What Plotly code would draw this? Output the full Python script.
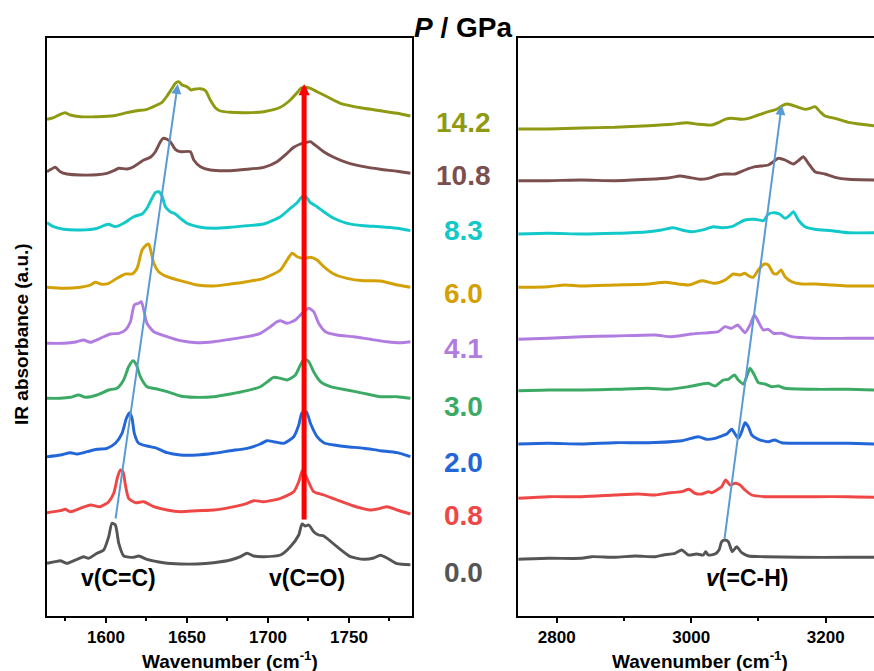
import plotly.graph_objects as go

# Pressure steps (GPa) and the colour used for each spectrum / label
pressures = ["0.0", "0.8", "2.0", "3.0", "4.1", "6.0", "8.3", "10.8", "14.2"]
colors = ["#555555", "#EF4646", "#2266D8", "#3CAA64", "#B07CE0",
          "#D3A005", "#12C8C8", "#7C4F4F", "#8E9A12"]
label_level = [44, 101, 154, 210, 268, 323, 386, 441, 494]

# ---------- C=C / C=O region (stacked absorbance, a.u.) ----------
wn_cc_00 = [1563.6, 1568.7, 1571.8, 1575.9, 1582.1, 1586.2, 1589.3, 1594.5, 1598.6, 1601.7, 1603.7, 1605.8,
            1607.9, 1611.0, 1617.1, 1620.2, 1625.3, 1635.6, 1645.9, 1656.2, 1666.5, 1676.8, 1683.0, 1687.1,
            1691.2, 1697.4, 1707.7, 1713.8, 1719.0, 1721.0, 1723.1, 1725.2, 1728.2, 1731.3, 1734.4, 1742.6,
            1750.9, 1759.1, 1765.3, 1769.4, 1773.5, 1779.7, 1787.9]
ab_cc_00 = [52.7, 54.3, 55.3, 52.7, 56.7, 59.3, 57.7, 62.7, 66.0, 79.3, 92.7, 91.0,
            72.7, 60.0, 58.7, 60.0, 56.7, 53.3, 52.0, 52.0, 53.3, 56.0, 59.3, 62.7,
            60.0, 59.3, 61.0, 69.3, 81.0, 92.0, 90.0, 91.0, 84.3, 81.0, 80.0, 69.3,
            59.3, 56.7, 58.0, 60.7, 58.0, 52.3, 51.3]

wn_cc_08 = [1563.6, 1571.8, 1574.9, 1578.0, 1584.2, 1590.4, 1596.5, 1601.7, 1604.8, 1607.2, 1608.9, 1610.5,
            1612.0, 1614.0, 1618.1, 1623.3, 1629.5, 1637.7, 1645.9, 1656.2, 1666.5, 1676.8, 1687.1, 1691.2,
            1697.4, 1707.7, 1715.9, 1719.0, 1721.4, 1724.1, 1728.2, 1734.4, 1742.6, 1752.9, 1763.2, 1769.4,
            1773.5, 1779.7, 1787.9]
ab_cc_08 = [103.3, 105.3, 106.7, 104.3, 107.7, 111.0, 109.3, 114.3, 122.7, 139.3, 146.0, 144.3,
            131.0, 117.7, 113.3, 114.3, 109.3, 106.0, 104.3, 105.3, 106.0, 108.7, 112.7, 115.3,
            114.3, 117.7, 124.3, 134.3, 146.0, 137.7, 124.3, 121.0, 116.0, 110.0, 106.0, 107.7,
            109.3, 106.0, 102.0]

wn_cc_20 = [1563.6, 1571.8, 1578.0, 1582.1, 1588.3, 1594.5, 1600.6, 1605.8, 1609.9, 1612.6, 1614.6, 1616.1,
            1617.5, 1620.2, 1625.3, 1631.5, 1637.7, 1645.9, 1656.2, 1666.5, 1676.8, 1687.1, 1695.3, 1699.4,
            1703.5, 1709.7, 1715.9, 1719.0, 1721.0, 1723.7, 1726.2, 1730.3, 1734.4, 1740.6, 1748.8, 1759.1,
            1769.4, 1779.7, 1787.9]
ab_cc_20 = [159.3, 161.0, 163.3, 162.0, 164.3, 166.7, 167.7, 172.7, 182.7, 197.7, 203.3, 197.7,
            182.7, 172.7, 170.0, 167.7, 163.3, 161.0, 161.0, 162.7, 165.3, 167.7, 172.0, 175.3,
            174.3, 172.7, 179.3, 191.0, 203.3, 204.3, 192.7, 179.3, 173.3, 171.0, 169.3, 167.7,
            165.3, 163.3, 159.3]

wn_cc_30 = [1563.6, 1571.8, 1578.0, 1583.2, 1587.3, 1594.5, 1601.7, 1606.8, 1610.9, 1614.0, 1616.7, 1618.8,
            1621.2, 1625.3, 1631.5, 1637.7, 1645.9, 1654.2, 1666.5, 1676.8, 1687.1, 1695.3, 1700.5, 1703.5,
            1707.7, 1711.8, 1716.9, 1720.0, 1722.5, 1725.2, 1728.2, 1732.4, 1738.5, 1748.8, 1759.1, 1769.4,
            1779.7, 1787.9]
ab_cc_30 = [217.7, 217.7, 218.7, 221.0, 218.7, 221.0, 226.0, 227.7, 236.0, 249.3, 255.3, 251.0,
            239.3, 229.3, 227.0, 224.3, 220.0, 218.7, 219.3, 222.0, 225.3, 229.3, 235.3, 238.7,
            237.7, 236.0, 241.0, 251.0, 257.0, 254.3, 244.3, 234.3, 229.3, 226.0, 222.7, 219.3,
            219.3, 217.7]

wn_cc_41 = [1563.6, 1573.9, 1582.1, 1586.2, 1590.4, 1596.5, 1602.7, 1607.9, 1612.0, 1615.1, 1617.5, 1620.2,
            1621.8, 1623.3, 1625.3, 1629.5, 1637.7, 1645.9, 1656.2, 1666.5, 1676.8, 1687.1, 1695.3, 1701.5,
            1705.6, 1707.7, 1711.8, 1716.9, 1721.0, 1725.2, 1728.2, 1731.3, 1735.4, 1742.6, 1752.9, 1763.2,
            1773.5, 1781.7, 1787.9]
ab_cc_41 = [272.7, 272.7, 274.3, 276.0, 273.7, 277.7, 282.0, 282.7, 286.0, 294.3, 311.0, 312.7,
            314.3, 306.0, 292.7, 284.3, 279.3, 275.3, 273.3, 274.3, 276.7, 279.3, 282.7, 289.3,
            294.3, 295.3, 292.7, 296.0, 302.7, 307.7, 304.3, 292.7, 284.3, 281.0, 279.3, 276.7,
            274.3, 273.3, 274.3]

wn_cc_60 = [1563.6, 1573.9, 1584.2, 1590.4, 1593.4, 1597.6, 1601.7, 1606.8, 1612.0, 1616.1, 1619.2, 1622.3,
            1624.9, 1626.4, 1627.8, 1629.5, 1632.5, 1637.7, 1645.9, 1656.2, 1666.5, 1676.8, 1687.1, 1697.4,
            1707.7, 1711.8, 1714.9, 1718.0, 1722.1, 1726.2, 1730.3, 1734.4, 1740.6, 1748.8, 1759.1, 1769.4,
            1779.7, 1787.9]
ab_cc_60 = [328.7, 327.7, 328.7, 331.0, 333.7, 331.7, 332.7, 337.7, 342.0, 342.0, 347.7, 366.0,
            371.0, 372.0, 364.3, 352.7, 344.3, 339.3, 335.3, 331.0, 330.0, 332.0, 334.3, 337.7,
            346.0, 356.0, 362.7, 359.3, 357.7, 358.7, 356.0, 349.3, 342.0, 337.7, 335.3, 335.0,
            331.0, 328.7]

wn_cc_83 = [1563.6, 1567.7, 1573.9, 1584.2, 1594.5, 1599.6, 1601.7, 1605.8, 1610.9, 1617.1, 1622.3, 1625.3,
            1628.4, 1630.5, 1632.5, 1634.6, 1636.7, 1639.7, 1642.8, 1645.9, 1650.0, 1658.3, 1666.5, 1676.8,
            1687.1, 1697.4, 1707.7, 1713.8, 1718.0, 1721.0, 1723.1, 1726.2, 1730.3, 1734.4, 1740.6, 1748.8,
            1759.1, 1769.4, 1779.7, 1787.9]
ab_cc_83 = [393.3, 389.3, 386.7, 386.0, 387.7, 391.0, 391.7, 389.3, 392.7, 399.3, 402.0, 407.7,
            417.7, 423.3, 424.3, 420.0, 409.3, 404.3, 402.0, 397.7, 392.7, 388.7, 387.7, 388.7,
            390.3, 392.0, 399.3, 407.7, 413.3, 419.3, 420.0, 413.3, 409.3, 404.3, 397.7, 392.7,
            390.3, 389.3, 387.7, 385.3]

wn_cc_108 = [1563.6, 1566.1, 1568.7, 1571.8, 1575.9, 1584.2, 1594.5, 1600.6, 1604.8, 1607.9, 1613.0, 1617.1,
             1623.3, 1627.4, 1630.5, 1633.6, 1635.2, 1637.7, 1639.7, 1642.8, 1645.9, 1652.1, 1654.2, 1658.3,
             1664.4, 1676.8, 1687.1, 1697.4, 1705.6, 1711.8, 1715.9, 1720.0, 1723.1, 1726.2, 1728.2, 1734.4,
             1740.6, 1748.8, 1759.1, 1769.4, 1779.7, 1787.9]
ab_cc_108 = [444.3, 446.7, 448.7, 444.3, 442.0, 441.0, 441.3, 442.7, 445.3, 447.7, 447.0, 449.3,
             456.0, 458.7, 464.3, 474.3, 477.7, 476.7, 474.3, 466.7, 464.3, 464.3, 456.0, 449.3,
             446.0, 445.3, 446.7, 448.7, 454.3, 462.7, 468.7, 472.0, 473.3, 474.3, 472.0, 464.3,
             458.7, 453.3, 449.3, 446.7, 444.7, 442.7]

wn_cc_142 = [1563.6, 1567.7, 1571.8, 1574.9, 1578.0, 1584.2, 1594.5, 1604.8, 1613.0, 1619.2, 1625.3, 1631.5,
             1634.6, 1637.7, 1640.8, 1642.8, 1644.9, 1647.0, 1650.0, 1652.5, 1654.2, 1658.3, 1661.4, 1664.4,
             1667.5, 1670.6, 1676.8, 1687.1, 1697.4, 1707.7, 1713.8, 1718.0, 1720.4, 1723.1, 1726.2, 1730.3,
             1736.5, 1744.7, 1759.1, 1769.4, 1779.7, 1787.9]
ab_cc_142 = [496.7, 498.3, 501.7, 503.3, 501.0, 499.3, 499.3, 500.3, 503.3, 505.3, 506.7, 511.0,
             513.7, 520.0, 527.7, 532.7, 534.3, 531.0, 529.3, 526.0, 526.7, 527.3, 525.3, 516.0,
             508.3, 505.0, 503.7, 503.3, 504.3, 508.7, 516.0, 523.3, 527.7, 528.7, 527.7, 524.3,
             519.3, 512.7, 507.7, 505.3, 502.7, 500.0]

# ---------- =C-H stretching region (stacked absorbance, a.u.) ----------
wn_ch_00 = [2743.0, 2787.6, 2837.1, 2852.0, 2886.7, 2916.5, 2946.2, 2958.6, 2975.9, 2985.9, 2995.8, 3008.2,
            3018.1, 3021.5, 3025.5, 3035.4, 3041.4, 3045.3, 3050.3, 3055.2, 3061.2, 3067.6, 3075.1, 3085.0,
            3109.8, 3159.3, 3233.7, 3271.9]
ab_ch_00 = [56.7, 57.7, 57.7, 59.3, 58.7, 60.0, 59.3, 61.0, 62.7, 66.0, 61.0, 62.0,
            61.0, 64.3, 61.0, 62.0, 66.0, 74.3, 76.0, 74.3, 64.3, 69.3, 63.3, 60.0,
            59.3, 58.7, 58.7, 58.7]

wn_ch_08 = [2743.0, 2787.6, 2837.1, 2886.7, 2921.4, 2946.2, 2968.5, 2985.9, 2996.8, 3005.7, 3015.6, 3025.5,
            3030.5, 3037.9, 3045.3, 3051.3, 3057.7, 3065.2, 3072.6, 3080.0, 3090.0, 3109.8, 3134.6, 3184.1,
            3233.7, 3271.9]
ab_ch_08 = [117.7, 119.3, 119.3, 121.0, 122.0, 121.0, 123.3, 124.3, 126.7, 122.7, 122.0, 124.3,
            123.3, 126.0, 129.3, 136.0, 131.0, 132.7, 131.0, 126.0, 121.0, 119.3, 119.3, 119.3,
            119.3, 118.7]

wn_ch_20 = [2743.0, 2787.6, 2837.1, 2886.7, 2936.3, 2985.9, 3010.6, 3023.0, 3035.4, 3045.3, 3052.8, 3060.2,
            3065.2, 3070.1, 3075.1, 3080.0, 3085.0, 3090.0, 3099.9, 3114.7, 3123.7, 3134.6, 3184.1, 3233.7,
            3271.9]
ab_ch_20 = [172.0, 172.7, 172.0, 173.3, 173.3, 175.3, 179.3, 176.7, 177.7, 180.0, 182.0, 186.7,
            182.0, 177.7, 184.3, 193.3, 189.3, 181.0, 176.7, 174.3, 176.0, 173.3, 172.7, 172.7,
            172.0]

wn_ch_30 = [2743.0, 2787.6, 2837.1, 2886.7, 2936.3, 2966.0, 2995.8, 3025.5, 3035.4, 3047.8, 3055.2, 3064.2,
            3070.1, 3077.6, 3082.5, 3087.5, 3093.9, 3099.9, 3109.8, 3119.7, 3129.6, 3139.5, 3184.1, 3233.7,
            3271.9]
ab_ch_30 = [225.3, 226.0, 226.0, 226.7, 227.7, 226.7, 229.3, 232.7, 230.0, 236.0, 236.7, 241.0,
            236.0, 232.0, 239.3, 247.7, 241.0, 233.3, 232.0, 229.3, 230.0, 227.7, 226.7, 226.7,
            226.0]

wn_ch_41 = [2743.0, 2787.6, 2837.1, 2886.7, 2946.2, 2971.0, 3000.7, 3025.5, 3040.4, 3050.3, 3060.2, 3069.1,
            3075.1, 3080.0, 3087.5, 3093.9, 3099.9, 3107.3, 3114.7, 3122.2, 3134.6, 3149.4, 3184.1, 3233.7,
            3271.9]
ab_ch_41 = [276.7, 277.7, 279.3, 280.0, 281.0, 279.3, 282.0, 283.3, 284.3, 289.3, 287.7, 291.0,
            286.7, 283.3, 291.0, 301.0, 294.3, 286.0, 286.7, 282.7, 282.7, 279.3, 277.7, 277.7,
            277.7]

wn_ch_60 = [2743.0, 2787.6, 2812.4, 2837.1, 2886.7, 2936.3, 2961.1, 2995.8, 3015.6, 3035.4, 3050.3, 3062.7,
            3072.6, 3080.0, 3087.5, 3092.4, 3099.9, 3108.8, 3114.7, 3122.2, 3127.1, 3133.6, 3139.5, 3149.4,
            3164.3, 3184.1, 3208.9, 3233.7, 3271.9]
ab_ch_60 = [328.7, 329.3, 331.0, 330.0, 331.0, 332.0, 333.7, 331.0, 335.3, 332.7, 336.0, 342.0,
            341.0, 342.7, 339.3, 338.7, 346.0, 352.0, 351.0, 342.7, 342.0, 346.0, 339.3, 334.3,
            332.0, 332.0, 331.0, 330.0, 330.0]

wn_ch_83 = [2743.0, 2787.6, 2837.1, 2886.7, 2936.3, 2956.1, 2973.5, 2985.9, 3000.7, 3020.5, 3032.9, 3045.3,
            3060.2, 3070.1, 3080.0, 3094.9, 3107.3, 3114.7, 3124.6, 3132.1, 3139.5, 3147.0, 3151.9, 3159.3,
            3169.3, 3184.1, 3208.9, 3233.7, 3271.9]
ab_ch_83 = [382.0, 382.7, 382.0, 382.7, 384.3, 386.0, 388.3, 386.0, 384.3, 386.7, 389.3, 388.3,
            389.3, 392.7, 396.0, 396.7, 395.3, 402.0, 403.3, 401.7, 397.7, 401.0, 404.3, 396.0,
            389.3, 386.7, 385.3, 383.3, 383.3]

wn_ch_108 = [2743.0, 2787.6, 2837.1, 2886.7, 2936.3, 2966.0, 2983.4, 2995.8, 3013.1, 3025.5, 3040.4, 3050.3,
             3065.2, 3080.0, 3094.9, 3114.7, 3122.2, 3129.6, 3139.5, 3151.9, 3159.3, 3166.8, 3174.2, 3184.1,
             3199.0, 3213.9, 3233.7, 3271.9]
ab_ch_108 = [435.3, 435.3, 436.0, 435.3, 436.7, 438.0, 440.0, 438.7, 436.7, 437.7, 441.0, 442.0,
             442.0, 446.0, 449.3, 451.0, 454.3, 457.7, 456.0, 452.0, 455.3, 459.3, 452.7, 444.3,
             442.0, 438.7, 436.7, 436.0]

wn_ch_142 = [2743.0, 2787.6, 2837.1, 2886.7, 2936.3, 2971.0, 2993.3, 3010.6, 3030.5, 3040.4, 3050.3, 3060.2,
             3075.1, 3085.0, 3099.9, 3114.7, 3127.1, 3134.6, 3142.0, 3149.4, 3159.3, 3169.3, 3176.7, 3184.1,
             3191.6, 3199.0, 3213.9, 3233.7, 3253.5, 3271.9]
ab_ch_142 = [487.0, 487.0, 488.0, 488.7, 490.3, 491.7, 493.3, 491.7, 491.0, 493.3, 496.7, 497.7,
             496.7, 497.7, 501.0, 504.3, 506.7, 510.0, 512.0, 511.0, 508.7, 506.7, 507.7, 509.3,
             504.3, 500.0, 497.7, 493.7, 491.7, 490.3]

cc_wn = [wn_cc_00, wn_cc_08, wn_cc_20, wn_cc_30, wn_cc_41, wn_cc_60, wn_cc_83, wn_cc_108, wn_cc_142]
cc_ab = [ab_cc_00, ab_cc_08, ab_cc_20, ab_cc_30, ab_cc_41, ab_cc_60, ab_cc_83, ab_cc_108, ab_cc_142]
ch_wn = [wn_ch_00, wn_ch_08, wn_ch_20, wn_ch_30, wn_ch_41, wn_ch_60, wn_ch_83, wn_ch_108, wn_ch_142]
ch_ab = [ab_ch_00, ab_ch_08, ab_ch_20, ab_ch_30, ab_ch_41, ab_ch_60, ab_ch_83, ab_ch_108, ab_ch_142]

# Peak-shift guide arrows: (start wn, start level, end wn, end level)
cc_shift = (1605.8, 96, 1644.3, 532)
co_mark = (1722.3, 95, 1722.3, 532)
ch_shift = (3049.3, 76, 3134.6, 511)

FONT = "Liberation Sans, Arial, sans-serif"

fig = go.Figure()
for i in range(len(pressures)):
    fig.add_trace(go.Scatter(
        x=cc_wn[i], y=cc_ab[i], mode="lines", xaxis="x", yaxis="y",
        line=dict(color=colors[i], width=2.9, shape="spline", smoothing=0.6),
        showlegend=False, hoverinfo="skip"))
    fig.add_trace(go.Scatter(
        x=ch_wn[i], y=ch_ab[i], mode="lines", xaxis="x2", yaxis="y2",
        line=dict(color=colors[i], width=2.9, shape="spline", smoothing=0.6),
        showlegend=False, hoverinfo="skip"))

tickfont = dict(family=FONT, size=17, color="black", weight="bold")
xcommon = dict(showline=True, linewidth=2, linecolor="black", mirror=True,
               ticks="outside", ticklen=5, tickwidth=1.5, tickcolor="black",
               showgrid=False, zeroline=False, tickfont=tickfont)

fig.update_layout(
    width=874, height=671,
    margin=dict(l=0, r=0, t=38, b=55),
    paper_bgcolor="white", plot_bgcolor="white",
    font=dict(family=FONT, color="black"),
    xaxis=dict(domain=[47 / 874, 412 / 874], range=[1563.6, 1788.9], anchor="y",
               tick0=1600, dtick=50,
               minor=dict(ticks="outside", ticklen=3, tickwidth=1.5, tickcolor="black",
                          tick0=1575, dtick=25),
               **xcommon),
    yaxis=dict(domain=[0, 1], range=[0, 578], anchor="x", showline=True, linewidth=2,
               linecolor="black", mirror=True, showticklabels=False, ticks="",
               showgrid=False, zeroline=False),
    xaxis2=dict(domain=[518 / 874, 1.0], range=[2742.5, 3271.8], anchor="y2",
                tick0=2800, dtick=200,
                minor=dict(ticks="outside", ticklen=3, tickwidth=1.5, tickcolor="black",
                           tick0=2900, dtick=100),
                **xcommon),
    yaxis2=dict(domain=[0, 1], range=[0, 578], anchor="x2", showline=True, linewidth=2,
                linecolor="black", mirror=False, showticklabels=False, ticks="",
                showgrid=False, zeroline=False),
)

ann = []
# guide arrows
for (x0, y0, x1, y1), ref, col, w, sz in [
        (cc_shift, ("x", "y"), "#5B9BD5", 2, 1.0),
        (co_mark, ("x", "y"), "#FF0000", 5, 0.45),
        (ch_shift, ("x2", "y2"), "#5B9BD5", 2, 1.0)]:
    ann.append(dict(x=x1, y=y1, ax=x0, ay=y0, xref=ref[0], yref=ref[1],
                    axref=ref[0], ayref=ref[1], text="", showarrow=True,
                    arrowhead=2, arrowsize=sz, arrowwidth=w, arrowcolor=col))

# pressure labels between the panels
for p, c, lv in zip(pressures, colors, label_level):
    ann.append(dict(x=463 / 874, y=lv, xref="paper", yref="y", text=f"<b>{p}</b>",
                    showarrow=False, xanchor="center", yanchor="middle",
                    font=dict(family=FONT, size=28, color=c)))
ann.append(dict(x=463 / 874, y=1.019, xref="paper", yref="paper",
                text="<b><i>P</i> / GPa</b>", showarrow=False,
                xanchor="center", yanchor="middle",
                font=dict(family=FONT, size=28, color="black")))

# band assignments
band_font = dict(family=FONT, size=23, color="black")
ann.append(dict(x=1608, y=38, xref="x", yref="y", text="<b>v(C=C)</b>",
                showarrow=False, font=band_font))
ann.append(dict(x=1724, y=38, xref="x", yref="y", text="<b>v(C=O)</b>",
                showarrow=False, font=band_font))
ann.append(dict(x=3083, y=38, xref="x2", yref="y2", text="<b><i>v</i>(=C-H)</b>",
                showarrow=False, font=band_font))

# axis titles
title_font = dict(family=FONT, size=19, color="black")
ann.append(dict(x=22 / 874, y=0.488, xref="paper", yref="paper",
                text="<b>IR absorbance (a.u.)</b>", textangle=-90, showarrow=False,
                xanchor="center", yanchor="middle", font=dict(family=FONT, size=19, color="black")))
for xc in (230 / 874, 700 / 874):
    ann.append(dict(x=xc, y=-0.0761, xref="paper", yref="paper",
                    text="<b>Wavenumber (cm<sup>-1</sup>)</b>", showarrow=False,
                    xanchor="center", yanchor="middle", font=title_font))

fig.update_layout(annotations=ann)
fig.write_html("out.html")
